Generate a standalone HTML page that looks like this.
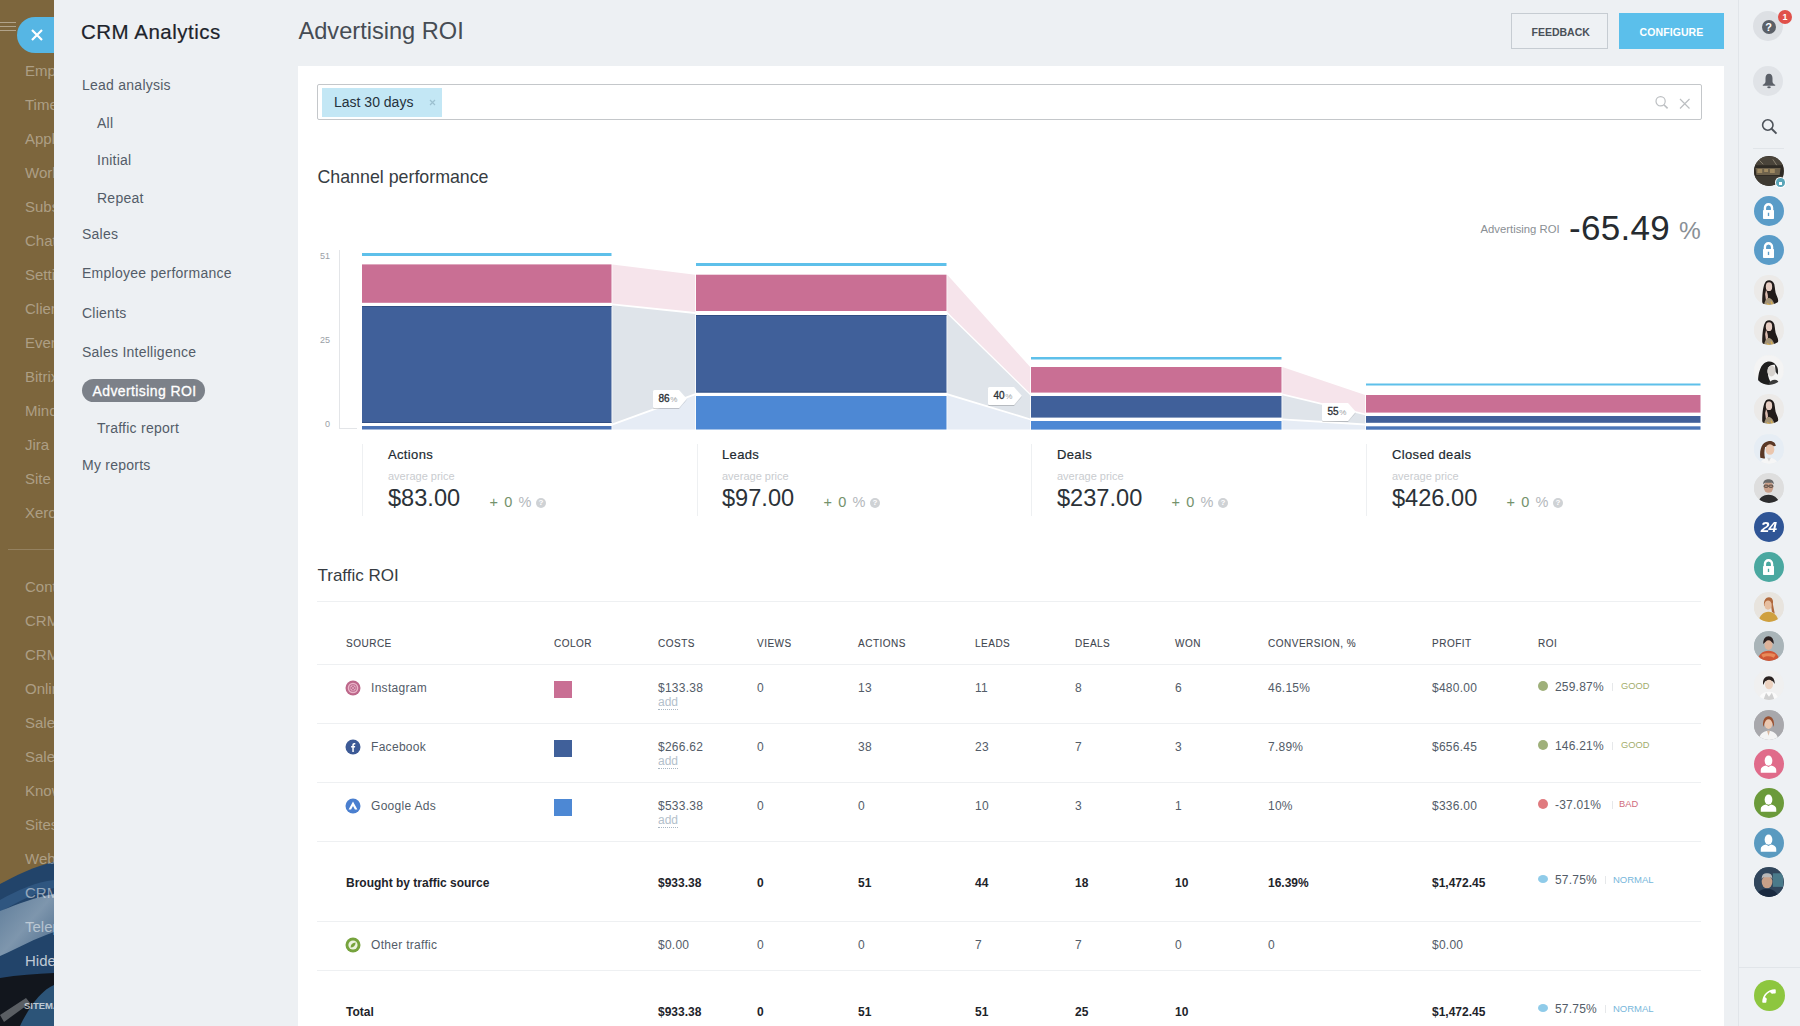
<!DOCTYPE html>
<html><head><meta charset="utf-8">
<style>
*{margin:0;padding:0;box-sizing:border-box}
html,body{width:1800px;height:1026px;overflow:hidden;background:#edf0f3;font-family:"Liberation Sans",sans-serif;position:relative}
.a{position:absolute;white-space:nowrap;line-height:normal}
svg.a{overflow:visible}
</style></head><body>
<div class="a" style="left:0;top:0;width:54px;height:1026px;background:#7d663d;overflow:hidden">
<svg class="a" style="left:0;top:840px" width="54" height="186" viewBox="0 0 54 186">
<defs><linearGradient id="lb" x1="0" y1="0" x2="1" y2="1"><stop offset="0" stop-color="#5f7d9a"/><stop offset="0.5" stop-color="#7e96ad"/><stop offset="1" stop-color="#4d6c8c"/></linearGradient></defs>
<path d="M0 44 C15 36 35 26 54 22 L54 186 L0 186 Z" fill="#22446a"/>
<path d="M0 60 C18 50 36 42 54 40 L54 48 C36 52 18 62 0 72 Z" fill="#2f5680"/>
<path d="M0 71 C18 64 36 57 54 54 L54 92 C36 98 18 108 0 116 Z" fill="url(#lb)"/>
<path d="M0 138 C18 135 36 134 54 133 L54 186 L0 186 Z" fill="#12161d"/>
<path d="M20 186 C30 165 42 150 54 145 L54 186 Z" fill="#2c5478"/>
<path d="M0 175 L26 158 L30 163 L4 182 Z" fill="#5a5e63"/>
</svg>
<div class="a" style="left:0;top:21.5px;width:16px;height:1.5px;background:rgba(255,255,255,.4)"></div>
<div class="a" style="left:0;top:25.5px;width:16px;height:1.5px;background:rgba(255,255,255,.4)"></div>
<div class="a" style="left:0;top:29.5px;width:16px;height:1.5px;background:rgba(255,255,255,.4)"></div>
<div class="a" style="left:25px;top:62.2px;font-size:15px;color:rgba(255,255,255,.38);">Employees</div>
<div class="a" style="left:25px;top:96.2px;font-size:15px;color:rgba(255,255,255,.38);">Timeman</div>
<div class="a" style="left:25px;top:130.2px;font-size:15px;color:rgba(255,255,255,.38);">Applications</div>
<div class="a" style="left:25px;top:164.2px;font-size:15px;color:rgba(255,255,255,.38);">Workflows</div>
<div class="a" style="left:25px;top:198.2px;font-size:15px;color:rgba(255,255,255,.38);">Subscription</div>
<div class="a" style="left:25px;top:232.2px;font-size:15px;color:rgba(255,255,255,.38);">Chat</div>
<div class="a" style="left:25px;top:266.2px;font-size:15px;color:rgba(255,255,255,.38);">Settings</div>
<div class="a" style="left:25px;top:300.2px;font-size:15px;color:rgba(255,255,255,.38);">Clients</div>
<div class="a" style="left:25px;top:334.2px;font-size:15px;color:rgba(255,255,255,.38);">Events</div>
<div class="a" style="left:25px;top:368.2px;font-size:15px;color:rgba(255,255,255,.38);">Bitrix24</div>
<div class="a" style="left:25px;top:402.2px;font-size:15px;color:rgba(255,255,255,.38);">Mind map</div>
<div class="a" style="left:25px;top:436.2px;font-size:15px;color:rgba(255,255,255,.38);">Jira I</div>
<div class="a" style="left:25px;top:470.2px;font-size:15px;color:rgba(255,255,255,.38);">Site</div>
<div class="a" style="left:25px;top:504.2px;font-size:15px;color:rgba(255,255,255,.38);">Xero</div>
<div class="a" style="left:8px;top:549px;width:46px;height:1px;background:rgba(255,255,255,.18)"></div>
<div class="a" style="left:25px;top:578.2px;font-size:15px;color:rgba(255,255,255,.38);">Contacts</div>
<div class="a" style="left:25px;top:612.2px;font-size:15px;color:rgba(255,255,255,.38);">CRM</div>
<div class="a" style="left:25px;top:646.2px;font-size:15px;color:rgba(255,255,255,.38);">CRM</div>
<div class="a" style="left:25px;top:680.2px;font-size:15px;color:rgba(255,255,255,.38);">Online</div>
<div class="a" style="left:25px;top:714.2px;font-size:15px;color:rgba(255,255,255,.38);">Sales</div>
<div class="a" style="left:25px;top:748.2px;font-size:15px;color:rgba(255,255,255,.38);">Sales</div>
<div class="a" style="left:25px;top:782.2px;font-size:15px;color:rgba(255,255,255,.38);">Knowledge</div>
<div class="a" style="left:25px;top:816.2px;font-size:15px;color:rgba(255,255,255,.38);">Sites</div>
<div class="a" style="left:25px;top:850.2px;font-size:15px;color:rgba(255,255,255,.38);">Web</div>
<div class="a" style="left:25px;top:884.2px;font-size:15px;color:rgba(255,255,255,.5);">CRM</div>
<div class="a" style="left:25px;top:918.2px;font-size:15px;color:rgba(255,255,255,.5);">Telephony</div>
<div class="a" style="left:25px;top:952.2px;font-size:15px;color:rgba(255,255,255,.72);">Hide</div>
<div class="a" style="left:24px;top:1000.3px;font-size:9.5px;color:rgba(255,255,255,.7);font-weight:bold">SITEMAP</div>
</div>
<div class="a" style="left:17px;top:17px;width:37px;height:36px;background:#56b6e4;border-radius:18px 0 0 18px"></div>
<svg class="a" style="left:30px;top:28px" width="14" height="14" viewBox="0 0 14 14"><path d="M2 2L12 12M12 2L2 12" stroke="#fff" stroke-width="2.2"/></svg>
<div class="a" style="left:81px;top:20.4px;font-size:20.5px;color:#1d232b;letter-spacing:0.5px;-webkit-text-stroke:0.2px #1d232b">CRM Analytics</div>
<div class="a" style="left:82px;top:77.1px;font-size:14px;color:#535c68;letter-spacing:0.25px">Lead analysis</div>
<div class="a" style="left:97px;top:115.1px;font-size:14px;color:#535c68;letter-spacing:0.25px">All</div>
<div class="a" style="left:97px;top:152.1px;font-size:14px;color:#535c68;letter-spacing:0.25px">Initial</div>
<div class="a" style="left:97px;top:190.1px;font-size:14px;color:#535c68;letter-spacing:0.25px">Repeat</div>
<div class="a" style="left:82px;top:226.1px;font-size:14px;color:#535c68;letter-spacing:0.25px">Sales</div>
<div class="a" style="left:82px;top:265.1px;font-size:14px;color:#535c68;letter-spacing:0.25px">Employee performance</div>
<div class="a" style="left:82px;top:304.6px;font-size:14px;color:#535c68;letter-spacing:0.25px">Clients</div>
<div class="a" style="left:82px;top:343.6px;font-size:14px;color:#535c68;letter-spacing:0.25px">Sales Intelligence</div>
<div class="a" style="left:97px;top:420.1px;font-size:14px;color:#535c68;letter-spacing:0.25px">Traffic report</div>
<div class="a" style="left:82px;top:457.1px;font-size:14px;color:#535c68;letter-spacing:0.25px">My reports</div>
<div class="a" style="left:82px;top:379px;width:123px;height:23px;border-radius:12px;background:#7c8189"></div>
<div class="a" style="left:92.5px;top:383.1px;font-size:14px;color:#fff;letter-spacing:0.4px;-webkit-text-stroke:0.3px #fff">Advertising ROI</div>
<div class="a" style="left:298.5px;top:17.9px;font-size:23.6px;color:#464c54;">Advertising ROI</div>
<div class="a" style="left:1511px;top:13px;width:97px;height:36px;border:1px solid #c6ccd2;background:#eef1f4"></div>
<div class="a" style="left:1531.5px;top:25.6px;font-size:10.5px;color:#4a5058;font-weight:bold;letter-spacing:0px">FEEDBACK</div>
<div class="a" style="left:1619px;top:13px;width:105px;height:36px;background:#5bbfeb"></div>
<div class="a" style="left:1639.5px;top:25.6px;font-size:10.5px;color:#fff;font-weight:bold;letter-spacing:0.1px">CONFIGURE</div>
<div class="a" style="left:298px;top:66px;width:1426px;height:960px;background:#fff"></div>
<div class="a" style="left:317px;top:83.5px;width:1385px;height:36px;border:1px solid #c4c7ca;border-top:1.5px solid #c4c7ca;border-radius:2px;background:#fff"></div>
<div class="a" style="left:322px;top:88px;width:120px;height:29px;background:#c3e7f5"></div>
<div class="a" style="left:334px;top:94.1px;font-size:14px;color:#25323c;">Last 30 days</div>
<svg class="a" style="left:429px;top:99px" width="7" height="7" viewBox="0 0 7 7"><path d="M1 1L6 6M6 1L1 6" stroke="#9cc0d0" stroke-width="1.2"/></svg>
<svg class="a" style="left:1654px;top:95px" width="16" height="16" viewBox="0 0 16 16"><circle cx="6.6" cy="6.3" r="4.6" fill="none" stroke="#bcbfc2" stroke-width="1.2"/><path d="M9.9 9.7L13.6 13.4" stroke="#bcbfc2" stroke-width="1.6"/></svg>
<svg class="a" style="left:1678.5px;top:98px" width="12" height="12" viewBox="0 0 12 12"><path d="M1 1L10.5 10.5M10.5 1L1 10.5" stroke="#bcbfc2" stroke-width="1.2"/></svg>
<div class="a" style="left:317.5px;top:166.6px;font-size:17.8px;color:#363c42;">Channel performance</div>
<div class="a" style="left:1480.5px;top:222.6px;font-size:11.3px;color:#8a8f94;">Advertising ROI</div>
<div class="a" style="left:1569px;top:207.8px;font-size:35px;color:#262b30;letter-spacing:0.3px">-65.49</div>
<div class="a" style="left:1679px;top:217.4px;font-size:24.5px;color:#8a9096;">%</div>
<svg class="a" style="left:0;top:0" width="1800" height="1026">
  <g font-family="Liberation Sans" font-size="9" fill="#9aa0a6">
    <text x="320" y="259">51</text><text x="320" y="343">25</text><text x="325" y="427">0</text>
  </g>
  <rect x="339" y="250" width="1" height="179" fill="#e3e5e8"/>
  <rect x="339" y="428" width="18" height="1" fill="#e3e5e8"/>
<polygon points="612.3,264.4 695.2,274.7 695.2,312.1 612.3,303.5" fill="#f6e4eb"/>
<polygon points="612.3,305.29999999999995 695.2,313.9 695.2,393.35 612.3,423.6" fill="#dfe4ea"/>
<polygon points="612.3,425.4 695.2,395.15 695.2,429.5 612.3,429.5" fill="#e6ecf5"/>
<polygon points="947.3,274.7 1030.2,367 1030.2,393.40000000000003 947.3,312.1" fill="#f6e4eb"/>
<polygon points="947.3,313.9 1030.2,395.2 1030.2,418.40000000000003 947.3,393.35" fill="#dfe4ea"/>
<polygon points="947.3,395.15 1030.2,420.2 1030.2,429.5 947.3,429.5" fill="#e6ecf5"/>
<polygon points="1282.3,367 1365.2,395 1365.2,413.40000000000003 1282.3,393.40000000000003" fill="#f6e4eb"/>
<polygon points="1282.3,395.2 1365.2,415.2 1365.2,423.6 1282.3,418.40000000000003" fill="#dfe4ea"/>
<polygon points="1282.3,420.2 1365.2,425.4 1365.2,429.5 1282.3,429.5" fill="#e6ecf5"/>
  <rect x="362" y="253" width="249.5" height="3" fill="#5ec0ea"/>
  <rect x="362" y="264.4" width="249.5" height="38.4" fill="#c96f94"/>
  <rect x="362" y="306" width="249.5" height="117" fill="#40609a"/>
  <rect x="362" y="306" width="249.5" height="0.8" fill="#2d4a7c"/><rect x="362" y="422.2" width="249.5" height="0.8" fill="#2d4a7c"/>
  <rect x="362" y="426" width="249.5" height="3.5" fill="#4a72b4"/>
  <rect x="696" y="263" width="250.5" height="3" fill="#5ec0ea"/>
  <rect x="696" y="274.7" width="250.5" height="36.3" fill="#c96f94"/>
  <rect x="696" y="315" width="250.5" height="77.5" fill="#40609a"/>
  <rect x="696" y="315" width="250.5" height="0.8" fill="#2d4a7c"/><rect x="696" y="391.7" width="250.5" height="0.8" fill="#2d4a7c"/>
  <rect x="696" y="396" width="250.5" height="33.5" fill="#4d88d4"/>
  <rect x="1031" y="357" width="250.5" height="2.5" fill="#5ec0ea"/>
  <rect x="1031" y="367" width="250.5" height="25.6" fill="#c96f94"/>
  <rect x="1031" y="396" width="250.5" height="21.6" fill="#40609a"/>
  <rect x="1031" y="421" width="250.5" height="8.6" fill="#4d88d4"/>
  <rect x="1366" y="383.5" width="334.5" height="2" fill="#5ec0ea"/>
  <rect x="1366" y="395" width="334.5" height="17.6" fill="#c96f94"/>
  <rect x="1366" y="416" width="334.5" height="6.8" fill="#40609a"/>
  <rect x="1366" y="426.3" width="334.5" height="3.4" fill="#4a76b8"/>
  <defs><filter id="sh" x="-20%" y="-20%" width="140%" height="160%"><feDropShadow dx="0" dy="1" stdDeviation="0.6" flood-color="#000" flood-opacity="0.18"/></filter></defs>
  <g font-family="Liberation Sans" font-size="10" fill="#2e3338" stroke="#2e3338" stroke-width="0.35">
    <path d="M654.5,390 H679 L686.8,398.8 L679,408 H654.5 Q653,408 653,406.5 V391.5 Q653,390 654.5,390 Z" fill="#fff" stroke="none" filter="url(#sh)"/>
    <text x="658.5" y="401.8">86<tspan font-size="8" fill="#9a9ea3" stroke="none" style="-webkit-text-stroke:0" dx="0.5">%</tspan></text>
    <path d="M989.5,387 H1014 L1021.8,395.8 L1014,405 H989.5 Q988,405 988,403.5 V388.5 Q988,387 989.5,387 Z" fill="#fff" stroke="none" filter="url(#sh)"/>
    <text x="993.5" y="398.8">40<tspan font-size="8" fill="#9a9ea3" stroke="none" style="-webkit-text-stroke:0" dx="0.5">%</tspan></text>
    <path d="M1323.5,403 H1348 L1355.8,411.8 L1348,421 H1323.5 Q1322,421 1322,419.5 V404.5 Q1322,403 1323.5,403 Z" fill="#fff" stroke="none" filter="url(#sh)"/>
    <text x="1327.5" y="414.8">55<tspan font-size="8" fill="#9a9ea3" stroke="none" style="-webkit-text-stroke:0" dx="0.5">%</tspan></text>
  </g>
</svg>
<div class="a" style="left:362px;top:444px;width:1px;height:72px;background:#eef0f2"></div>
<div class="a" style="left:388px;top:447.0px;font-size:13px;color:#222a30;letter-spacing:0.35px;-webkit-text-stroke:0.2px #222a30">Actions</div>
<div class="a" style="left:388px;top:469.9px;font-size:11px;color:#c9cccf;">average price</div>
<div class="a" style="left:388px;top:485.3px;font-size:23.6px;color:#2c3238;">$83.00</div>
<div class="a" style="left:489.5px;top:493.6px;font-size:14.5px;color:#74926c;letter-spacing:1.1px">+ 0 <span style="color:#b4b8bc">%</span></div>
<div class="a" style="left:536px;top:498px;width:10px;height:10px;border-radius:50%;background:#cfd2d5;color:#fff;font-size:8px;font-weight:bold;text-align:center;line-height:10px">?</div>
<div class="a" style="left:697px;top:444px;width:1px;height:72px;background:#eef0f2"></div>
<div class="a" style="left:722px;top:447.0px;font-size:13px;color:#222a30;letter-spacing:0.35px;-webkit-text-stroke:0.2px #222a30">Leads</div>
<div class="a" style="left:722px;top:469.9px;font-size:11px;color:#c9cccf;">average price</div>
<div class="a" style="left:722px;top:485.3px;font-size:23.6px;color:#2c3238;">$97.00</div>
<div class="a" style="left:823.5px;top:493.6px;font-size:14.5px;color:#74926c;letter-spacing:1.1px">+ 0 <span style="color:#b4b8bc">%</span></div>
<div class="a" style="left:870px;top:498px;width:10px;height:10px;border-radius:50%;background:#cfd2d5;color:#fff;font-size:8px;font-weight:bold;text-align:center;line-height:10px">?</div>
<div class="a" style="left:1031px;top:444px;width:1px;height:72px;background:#eef0f2"></div>
<div class="a" style="left:1057px;top:447.0px;font-size:13px;color:#222a30;letter-spacing:0.35px;-webkit-text-stroke:0.2px #222a30">Deals</div>
<div class="a" style="left:1057px;top:469.9px;font-size:11px;color:#c9cccf;">average price</div>
<div class="a" style="left:1057px;top:485.3px;font-size:23.6px;color:#2c3238;">$237.00</div>
<div class="a" style="left:1171.5px;top:493.6px;font-size:14.5px;color:#74926c;letter-spacing:1.1px">+ 0 <span style="color:#b4b8bc">%</span></div>
<div class="a" style="left:1218px;top:498px;width:10px;height:10px;border-radius:50%;background:#cfd2d5;color:#fff;font-size:8px;font-weight:bold;text-align:center;line-height:10px">?</div>
<div class="a" style="left:1366px;top:444px;width:1px;height:72px;background:#eef0f2"></div>
<div class="a" style="left:1392px;top:447.0px;font-size:13px;color:#222a30;letter-spacing:0.35px;-webkit-text-stroke:0.2px #222a30">Closed deals</div>
<div class="a" style="left:1392px;top:469.9px;font-size:11px;color:#c9cccf;">average price</div>
<div class="a" style="left:1392px;top:485.3px;font-size:23.6px;color:#2c3238;">$426.00</div>
<div class="a" style="left:1506.5px;top:493.6px;font-size:14.5px;color:#74926c;letter-spacing:1.1px">+ 0 <span style="color:#b4b8bc">%</span></div>
<div class="a" style="left:1553px;top:498px;width:10px;height:10px;border-radius:50%;background:#cfd2d5;color:#fff;font-size:8px;font-weight:bold;text-align:center;line-height:10px">?</div>
<div class="a" style="left:317.5px;top:565.5px;font-size:17px;color:#363c42;">Traffic ROI</div>
<div class="a" style="left:317px;top:601px;width:1384px;height:1px;background:#eef0f2"></div>
<div class="a" style="left:317px;top:664px;width:1384px;height:1px;background:#eef0f2"></div>
<div class="a" style="left:317px;top:723px;width:1384px;height:1px;background:#eef0f2"></div>
<div class="a" style="left:317px;top:782px;width:1384px;height:1px;background:#eef0f2"></div>
<div class="a" style="left:317px;top:841px;width:1384px;height:1px;background:#eef0f2"></div>
<div class="a" style="left:317px;top:921px;width:1384px;height:1px;background:#eef0f2"></div>
<div class="a" style="left:317px;top:970px;width:1384px;height:1px;background:#eef0f2"></div>
<div class="a" style="left:346px;top:637.8px;font-size:10px;color:#3f4750;letter-spacing:0.5px;-webkit-text-stroke:0.1px #3f4750">SOURCE</div>
<div class="a" style="left:554px;top:637.8px;font-size:10px;color:#3f4750;letter-spacing:0.5px;-webkit-text-stroke:0.1px #3f4750">COLOR</div>
<div class="a" style="left:658px;top:637.8px;font-size:10px;color:#3f4750;letter-spacing:0.5px;-webkit-text-stroke:0.1px #3f4750">COSTS</div>
<div class="a" style="left:757px;top:637.8px;font-size:10px;color:#3f4750;letter-spacing:0.5px;-webkit-text-stroke:0.1px #3f4750">VIEWS</div>
<div class="a" style="left:858px;top:637.8px;font-size:10px;color:#3f4750;letter-spacing:0.5px;-webkit-text-stroke:0.1px #3f4750">ACTIONS</div>
<div class="a" style="left:975px;top:637.8px;font-size:10px;color:#3f4750;letter-spacing:0.5px;-webkit-text-stroke:0.1px #3f4750">LEADS</div>
<div class="a" style="left:1075px;top:637.8px;font-size:10px;color:#3f4750;letter-spacing:0.5px;-webkit-text-stroke:0.1px #3f4750">DEALS</div>
<div class="a" style="left:1175px;top:637.8px;font-size:10px;color:#3f4750;letter-spacing:0.5px;-webkit-text-stroke:0.1px #3f4750">WON</div>
<div class="a" style="left:1268px;top:637.8px;font-size:10px;color:#3f4750;letter-spacing:0.5px;-webkit-text-stroke:0.1px #3f4750">CONVERSION, %</div>
<div class="a" style="left:1432px;top:637.8px;font-size:10px;color:#3f4750;letter-spacing:0.5px;-webkit-text-stroke:0.1px #3f4750">PROFIT</div>
<div class="a" style="left:1538px;top:637.8px;font-size:10px;color:#3f4750;letter-spacing:0.5px;-webkit-text-stroke:0.1px #3f4750">ROI</div>
<svg class="a" style="left:345px;top:680px" width="16" height="16" viewBox="0 0 16 16"><circle cx="8" cy="8" r="7.5" fill="#bd678a"/><circle cx="8" cy="8" r="5.3" fill="#eab3c8"/><rect x="4.9" y="4.9" width="6.2" height="6.2" rx="1.8" fill="none" stroke="#b25c82" stroke-width="1"/><circle cx="8" cy="8" r="1.5" fill="none" stroke="#b25c82" stroke-width="0.9"/></svg>
<div class="a" style="left:371px;top:680.9px;font-size:12px;color:#535c68;letter-spacing:0.3px">Instagram</div>
<div class="a" style="left:554px;top:681px;width:18px;height:17px;background:#c96f94"></div>
<div class="a" style="left:658px;top:680.9px;font-size:12px;color:#535c68;letter-spacing:0.25px">$133.38</div>
<div class="a" style="left:658px;top:695.9px;font-size:12px;color:#b3c0cb;border-bottom:1px dotted #aab7c3;line-height:13px">add</div>
<div class="a" style="left:757px;top:680.9px;font-size:12px;color:#535c68;letter-spacing:0.25px">0</div>
<div class="a" style="left:858px;top:680.9px;font-size:12px;color:#535c68;letter-spacing:0.25px">13</div>
<div class="a" style="left:975px;top:680.9px;font-size:12px;color:#535c68;letter-spacing:0.25px">11</div>
<div class="a" style="left:1075px;top:680.9px;font-size:12px;color:#535c68;letter-spacing:0.25px">8</div>
<div class="a" style="left:1175px;top:680.9px;font-size:12px;color:#535c68;letter-spacing:0.25px">6</div>
<div class="a" style="left:1268px;top:680.9px;font-size:12px;color:#535c68;letter-spacing:0.25px">46.15%</div>
<div class="a" style="left:1432px;top:680.9px;font-size:12px;color:#535c68;letter-spacing:0.25px">$480.00</div>
<div class="a" style="left:1538px;top:681px;width:10px;height:10px;border-radius:50%;background:#9fb07a"></div>
<div class="a" style="left:1555px;top:679.9px;font-size:12px;color:#535c68;letter-spacing:0.2px">259.87%</div>
<div class="a" style="left:1612px;top:683px;width:1px;height:8px;background:#e6e8ea"></div>
<div class="a" style="left:1621px;top:680.9px;font-size:9.3px;color:#a3ad6d;">GOOD</div>
<svg class="a" style="left:345px;top:739px" width="16" height="16" viewBox="0 0 16 16"><circle cx="8" cy="8" r="7.5" fill="#3d5a96"/><path d="M8.8 13V8.6H10L10.2 7.1H8.8V6.2C8.8 5.7 9 5.4 9.6 5.4H10.3V4C10.1 4 9.7 3.9 9.2 3.9C8.1 3.9 7.3 4.6 7.3 5.9V7.1H6.1V8.6H7.3V13Z" fill="#fff"/></svg>
<div class="a" style="left:371px;top:739.9px;font-size:12px;color:#535c68;letter-spacing:0.3px">Facebook</div>
<div class="a" style="left:554px;top:740px;width:18px;height:17px;background:#40609a"></div>
<div class="a" style="left:658px;top:739.9px;font-size:12px;color:#535c68;letter-spacing:0.25px">$266.62</div>
<div class="a" style="left:658px;top:754.9px;font-size:12px;color:#b3c0cb;border-bottom:1px dotted #aab7c3;line-height:13px">add</div>
<div class="a" style="left:757px;top:739.9px;font-size:12px;color:#535c68;letter-spacing:0.25px">0</div>
<div class="a" style="left:858px;top:739.9px;font-size:12px;color:#535c68;letter-spacing:0.25px">38</div>
<div class="a" style="left:975px;top:739.9px;font-size:12px;color:#535c68;letter-spacing:0.25px">23</div>
<div class="a" style="left:1075px;top:739.9px;font-size:12px;color:#535c68;letter-spacing:0.25px">7</div>
<div class="a" style="left:1175px;top:739.9px;font-size:12px;color:#535c68;letter-spacing:0.25px">3</div>
<div class="a" style="left:1268px;top:739.9px;font-size:12px;color:#535c68;letter-spacing:0.25px">7.89%</div>
<div class="a" style="left:1432px;top:739.9px;font-size:12px;color:#535c68;letter-spacing:0.25px">$656.45</div>
<div class="a" style="left:1538px;top:740px;width:10px;height:10px;border-radius:50%;background:#9fb07a"></div>
<div class="a" style="left:1555px;top:738.9px;font-size:12px;color:#535c68;letter-spacing:0.2px">146.21%</div>
<div class="a" style="left:1612px;top:742px;width:1px;height:8px;background:#e6e8ea"></div>
<div class="a" style="left:1621px;top:739.9px;font-size:9.3px;color:#a3ad6d;">GOOD</div>
<svg class="a" style="left:345px;top:798px" width="16" height="16" viewBox="0 0 16 16"><circle cx="8" cy="8" r="7.5" fill="#4a7fcf"/><path d="M8 3.6L12.4 11.4H9.9L8 8L6.1 11.4H3.6Z" fill="#fff"/></svg>
<div class="a" style="left:371px;top:798.9px;font-size:12px;color:#535c68;letter-spacing:0.3px">Google Ads</div>
<div class="a" style="left:554px;top:799px;width:18px;height:17px;background:#4d88d4"></div>
<div class="a" style="left:658px;top:798.9px;font-size:12px;color:#535c68;letter-spacing:0.25px">$533.38</div>
<div class="a" style="left:658px;top:813.9px;font-size:12px;color:#b3c0cb;border-bottom:1px dotted #aab7c3;line-height:13px">add</div>
<div class="a" style="left:757px;top:798.9px;font-size:12px;color:#535c68;letter-spacing:0.25px">0</div>
<div class="a" style="left:858px;top:798.9px;font-size:12px;color:#535c68;letter-spacing:0.25px">0</div>
<div class="a" style="left:975px;top:798.9px;font-size:12px;color:#535c68;letter-spacing:0.25px">10</div>
<div class="a" style="left:1075px;top:798.9px;font-size:12px;color:#535c68;letter-spacing:0.25px">3</div>
<div class="a" style="left:1175px;top:798.9px;font-size:12px;color:#535c68;letter-spacing:0.25px">1</div>
<div class="a" style="left:1268px;top:798.9px;font-size:12px;color:#535c68;letter-spacing:0.25px">10%</div>
<div class="a" style="left:1432px;top:798.9px;font-size:12px;color:#535c68;letter-spacing:0.25px">$336.00</div>
<div class="a" style="left:1538px;top:799px;width:10px;height:10px;border-radius:50%;background:#e07a7f"></div>
<div class="a" style="left:1555px;top:797.9px;font-size:12px;color:#535c68;letter-spacing:0.2px">-37.01%</div>
<div class="a" style="left:1612px;top:801px;width:1px;height:8px;background:#e6e8ea"></div>
<div class="a" style="left:1619px;top:798.9px;font-size:9.3px;color:#cf6b7b;">BAD</div>
<div class="a" style="left:346px;top:875.9px;font-size:12px;color:#1e242a;font-weight:bold">Brought by traffic source</div>
<div class="a" style="left:658px;top:875.9px;font-size:12px;color:#1e242a;font-weight:bold">$933.38</div>
<div class="a" style="left:757px;top:875.9px;font-size:12px;color:#1e242a;font-weight:bold">0</div>
<div class="a" style="left:858px;top:875.9px;font-size:12px;color:#1e242a;font-weight:bold">51</div>
<div class="a" style="left:975px;top:875.9px;font-size:12px;color:#1e242a;font-weight:bold">44</div>
<div class="a" style="left:1075px;top:875.9px;font-size:12px;color:#1e242a;font-weight:bold">18</div>
<div class="a" style="left:1175px;top:875.9px;font-size:12px;color:#1e242a;font-weight:bold">10</div>
<div class="a" style="left:1268px;top:875.9px;font-size:12px;color:#1e242a;font-weight:bold">16.39%</div>
<div class="a" style="left:1432px;top:875.9px;font-size:12px;color:#1e242a;font-weight:bold">$1,472.45</div>
<div class="a" style="left:1538px;top:875px;width:10px;height:8px;border-radius:50%;background:#8fcbe9"></div>
<div class="a" style="left:1555px;top:872.9px;font-size:12px;color:#535c68;letter-spacing:0.2px">57.75%</div>
<div class="a" style="left:1605px;top:876px;width:1px;height:8px;background:#e6e8ea"></div>
<div class="a" style="left:1613px;top:874.3px;font-size:9.5px;color:#77b7db;">NORMAL</div>
<svg class="a" style="left:345px;top:937px" width="16" height="16" viewBox="0 0 16 16"><circle cx="8" cy="8" r="7.5" fill="#76a33d"/><circle cx="8" cy="8" r="4.6" fill="#eaf3df"/><path d="M5.6 10.6C5.6 7.4 7.4 5.6 10.6 5.4C10.4 8.6 8.6 10.4 5.6 10.6Z" fill="#76a33d"/></svg>
<div class="a" style="left:371px;top:937.9px;font-size:12px;color:#535c68;letter-spacing:0.3px">Other traffic</div>
<div class="a" style="left:658px;top:937.9px;font-size:12px;color:#535c68;letter-spacing:0.25px">$0.00</div>
<div class="a" style="left:757px;top:937.9px;font-size:12px;color:#535c68;letter-spacing:0.25px">0</div>
<div class="a" style="left:858px;top:937.9px;font-size:12px;color:#535c68;letter-spacing:0.25px">0</div>
<div class="a" style="left:975px;top:937.9px;font-size:12px;color:#535c68;letter-spacing:0.25px">7</div>
<div class="a" style="left:1075px;top:937.9px;font-size:12px;color:#535c68;letter-spacing:0.25px">7</div>
<div class="a" style="left:1175px;top:937.9px;font-size:12px;color:#535c68;letter-spacing:0.25px">0</div>
<div class="a" style="left:1268px;top:937.9px;font-size:12px;color:#535c68;letter-spacing:0.25px">0</div>
<div class="a" style="left:1432px;top:937.9px;font-size:12px;color:#535c68;letter-spacing:0.25px">$0.00</div>
<div class="a" style="left:346px;top:1004.9px;font-size:12px;color:#1e242a;font-weight:bold">Total</div>
<div class="a" style="left:658px;top:1004.9px;font-size:12px;color:#1e242a;font-weight:bold">$933.38</div>
<div class="a" style="left:757px;top:1004.9px;font-size:12px;color:#1e242a;font-weight:bold">0</div>
<div class="a" style="left:858px;top:1004.9px;font-size:12px;color:#1e242a;font-weight:bold">51</div>
<div class="a" style="left:975px;top:1004.9px;font-size:12px;color:#1e242a;font-weight:bold">51</div>
<div class="a" style="left:1075px;top:1004.9px;font-size:12px;color:#1e242a;font-weight:bold">25</div>
<div class="a" style="left:1175px;top:1004.9px;font-size:12px;color:#1e242a;font-weight:bold">10</div>
<div class="a" style="left:1432px;top:1004.9px;font-size:12px;color:#1e242a;font-weight:bold">$1,472.45</div>
<div class="a" style="left:1538px;top:1004px;width:10px;height:8px;border-radius:50%;background:#8fcbe9"></div>
<div class="a" style="left:1555px;top:1001.9px;font-size:12px;color:#535c68;letter-spacing:0.2px">57.75%</div>
<div class="a" style="left:1605px;top:1005px;width:1px;height:8px;background:#e6e8ea"></div>
<div class="a" style="left:1613px;top:1003.3px;font-size:9.5px;color:#77b7db;">NORMAL</div>
<div class="a" style="left:1738px;top:0;width:62px;height:1026px;background:#eef1f4;border-left:1px solid #e1e5e9"></div>
<div class="a" style="left:1739px;top:967px;width:61px;height:1px;background:#e1e5e9"></div>
<div class="a" style="left:1753px;top:11px;width:30px;height:30px;border-radius:50%;background:#dde0e4"></div>
<div class="a" style="left:1761.5px;top:19.5px;width:14px;height:14px;border-radius:50%;background:#5b6068;color:#fff;font-size:11px;font-weight:bold;text-align:center;line-height:14px">?</div>
<div class="a" style="left:1778px;top:10px;width:14px;height:14px;border-radius:50%;background:#e0504a;color:#fff;font-size:9px;font-weight:bold;text-align:center;line-height:14px">1</div>
<div class="a" style="left:1753px;top:66px;width:30px;height:30px;border-radius:50%;background:#e0e3e7"></div>
<svg class="a" style="left:1761.5px;top:72.5px" width="14" height="16" viewBox="0 0 14 16"><path d="M7 0.8C4.7 0.8 3.5 2.8 3.5 5.2V8.4C3.5 9.8 2.6 10.8 0.8 11.8V12.8H13.2V11.8C11.4 10.8 10.5 9.8 10.5 8.4V5.2C10.5 2.8 9.3 0.8 7 0.8Z" fill="#5b6068"/><ellipse cx="7" cy="14.3" rx="1.8" ry="1" fill="#5b6068"/></svg>
<svg class="a" style="left:1761px;top:118px" width="18" height="18" viewBox="0 0 18 18"><circle cx="6.8" cy="7" r="5.2" fill="none" stroke="#4d535a" stroke-width="1.6"/><path d="M10.6 10.8L15.5 15.6" stroke="#4d535a" stroke-width="2"/></svg>
<div class="a" style="left:1753px;top:148px;width:31px;height:1px;background:#e1e5e9"></div>
<div class="a" style="left:1753.5px;top:156px;width:30px;height:30px;border-radius:50%;background:#3a342c;overflow:hidden"><div style="position:absolute;left:-0.5px;top:-0.5px;width:31px;height:31px;transform:scale(0.968);transform-origin:15.5px 15.5px"><svg width="31" height="31" viewBox="0 0 31 31" style="position:absolute;left:0;top:0"><rect width="31" height="31" fill="#2e2a24"/><rect x="0" y="0" width="31" height="9" fill="#4a443a"/><path d="M2 12H28L27 19H3Z" fill="#6e624c"/><path d="M4 13H9V17H4ZM11 13H15V16H11ZM17 13H22V17H17Z" fill="#a08a62"/><rect x="0" y="20" width="31" height="11" fill="#3e3a32"/><path d="M6 4L10 8M20 3L24 9" stroke="#8a8270" stroke-width="1"/></svg></div></div>
<div class="a" style="left:1775px;top:177px;width:11px;height:11px;border-radius:50%;background:#fff"></div>
<div class="a" style="left:1776.2px;top:178.2px;width:8.6px;height:8.6px;border-radius:50%;background:#5aa5b8"></div>
<div class="a" style="left:1778.7px;top:181.5px;width:3.6px;height:3px;background:#fff"></div>
<div class="a" style="left:1753.5px;top:196px;width:30px;height:30px;border-radius:50%;background:#5a9cc8;overflow:hidden"><div style="position:absolute;left:-0.5px;top:-0.5px;width:31px;height:31px;transform:scale(0.968);transform-origin:15.5px 15.5px"><svg width="31" height="31" viewBox="0 0 31 31" style="position:absolute;left:0;top:0"><path d="M11.8 14.5V11.8C11.8 9.6 13.4 8 15.5 8C17.6 8 19.2 9.6 19.2 11.8V14.5" fill="none" stroke="#fff" stroke-width="2.4"/><rect x="9.8" y="14" width="11.4" height="9.2" rx="0.8" fill="#fff"/><rect x="14.8" y="16.8" width="1.4" height="3.4" fill="#5a9cc8"/></svg></div></div>
<div class="a" style="left:1753.5px;top:235px;width:30px;height:30px;border-radius:50%;background:#5a9cc8;overflow:hidden"><div style="position:absolute;left:-0.5px;top:-0.5px;width:31px;height:31px;transform:scale(0.968);transform-origin:15.5px 15.5px"><svg width="31" height="31" viewBox="0 0 31 31" style="position:absolute;left:0;top:0"><path d="M11.8 14.5V11.8C11.8 9.6 13.4 8 15.5 8C17.6 8 19.2 9.6 19.2 11.8V14.5" fill="none" stroke="#fff" stroke-width="2.4"/><rect x="9.8" y="14" width="11.4" height="9.2" rx="0.8" fill="#fff"/><rect x="14.8" y="16.8" width="1.4" height="3.4" fill="#5a9cc8"/></svg></div></div>
<div class="a" style="left:1753.5px;top:275px;width:30px;height:30px;border-radius:50%;background:#eceae8;overflow:hidden"><div style="position:absolute;left:-0.5px;top:-0.5px;width:31px;height:31px;transform:scale(0.968);transform-origin:15.5px 15.5px"><svg width="31" height="31" viewBox="0 0 31 31" style="position:absolute;left:0;top:0"><rect width="31" height="31" fill="#eceae8"/><path d="M9 27C9 19 10 9 13 6C16 4 20 5 21.5 9C22.5 13 22 17 24 21C26 25 26 28 24 31H10Z" fill="#211b1a"/><ellipse cx="16" cy="11.5" rx="3.3" ry="4.6" fill="#e6cdc2"/><path d="M13 15C14 17 15 19 15 23L13 27L12 19Z" fill="#dcbcb0"/><path d="M11 31C11 27 13 24 16 23C19 24 21 27 22 31Z" fill="#a49478"/><path d="M14 29L17 31M18 27L20 31" stroke="#d8b050" stroke-width="1.2"/></svg></div></div>
<div class="a" style="left:1753.5px;top:315px;width:30px;height:30px;border-radius:50%;background:#eceae8;overflow:hidden"><div style="position:absolute;left:-0.5px;top:-0.5px;width:31px;height:31px;transform:scale(0.968);transform-origin:15.5px 15.5px"><svg width="31" height="31" viewBox="0 0 31 31" style="position:absolute;left:0;top:0"><rect width="31" height="31" fill="#eceae8"/><path d="M9 27C9 19 10 9 13 6C16 4 20 5 21.5 9C22.5 13 22 17 24 21C26 25 26 28 24 31H10Z" fill="#211b1a"/><ellipse cx="16" cy="11.5" rx="3.3" ry="4.6" fill="#e6cdc2"/><path d="M13 15C14 17 15 19 15 23L13 27L12 19Z" fill="#dcbcb0"/><path d="M11 31C11 27 13 24 16 23C19 24 21 27 22 31Z" fill="#a49478"/><path d="M14 29L17 31M18 27L20 31" stroke="#d8b050" stroke-width="1.2"/></svg></div></div>
<div class="a" style="left:1753.5px;top:355px;width:30px;height:30px;border-radius:50%;background:#f2f2f2;overflow:hidden"><div style="position:absolute;left:-0.5px;top:-0.5px;width:31px;height:31px;transform:scale(0.968);transform-origin:15.5px 15.5px"><svg width="31" height="31" viewBox="0 0 31 31" style="position:absolute;left:0;top:0"><rect width="31" height="31" fill="#f4f4f4"/><path d="M5 31C4 22 6 12 11 8C15 5 21 6 23 10C20 9 16 10 15 14C14 20 16 26 20 31Z" fill="#1e1e1e"/><ellipse cx="18.5" cy="16" rx="4.3" ry="5.6" fill="#d6d2ce"/><path d="M15 31C16 27 19 25 22 25C25 25 27 28 28 31Z" fill="#3a3a3a"/><path d="M22 9C25 11 26 15 25 20L23 17Z" fill="#2a2a2a"/></svg></div></div>
<div class="a" style="left:1753.5px;top:394px;width:30px;height:30px;border-radius:50%;background:#eceae8;overflow:hidden"><div style="position:absolute;left:-0.5px;top:-0.5px;width:31px;height:31px;transform:scale(0.968);transform-origin:15.5px 15.5px"><svg width="31" height="31" viewBox="0 0 31 31" style="position:absolute;left:0;top:0"><rect width="31" height="31" fill="#eceae8"/><path d="M9 27C9 19 10 9 13 6C16 4 20 5 21.5 9C22.5 13 22 17 24 21C26 25 26 28 24 31H10Z" fill="#211b1a"/><ellipse cx="16" cy="11.5" rx="3.3" ry="4.6" fill="#e6cdc2"/><path d="M13 15C14 17 15 19 15 23L13 27L12 19Z" fill="#dcbcb0"/><path d="M11 31C11 27 13 24 16 23C19 24 21 27 22 31Z" fill="#a49478"/><path d="M14 29L17 31M18 27L20 31" stroke="#d8b050" stroke-width="1.2"/></svg></div></div>
<div class="a" style="left:1753.5px;top:434px;width:30px;height:30px;border-radius:50%;background:#e6edf4;overflow:hidden"><div style="position:absolute;left:-0.5px;top:-0.5px;width:31px;height:31px;transform:scale(0.968);transform-origin:15.5px 15.5px"><svg width="31" height="31" viewBox="0 0 31 31" style="position:absolute;left:0;top:0"><rect width="31" height="31" fill="#e6edf4"/><path d="M7 24C6 15 9 8 15 7C20 6 23 9 23 12L12 13C11 17 11 21 12 25Z" fill="#5a3826"/><ellipse cx="17" cy="15.5" rx="4.5" ry="5.5" fill="#eac6ae"/><path d="M6 31C8 26 12 24 16 24C20 24 24 26 26 31Z" fill="#f6f6f6"/><path d="M14 24L16 28L18 24" fill="#d8d8d8"/></svg></div></div>
<div class="a" style="left:1753.5px;top:473px;width:30px;height:30px;border-radius:50%;background:#dedede;overflow:hidden"><div style="position:absolute;left:-0.5px;top:-0.5px;width:31px;height:31px;transform:scale(0.968);transform-origin:15.5px 15.5px"><svg width="31" height="31" viewBox="0 0 31 31" style="position:absolute;left:0;top:0"><rect width="31" height="31" fill="#dedede"/><ellipse cx="15.5" cy="14" rx="5" ry="6" fill="#c9a08a"/><path d="M10 11C10 7 13 6 15.5 6C18 6 21 7 21 11L19 9.5L12 9.5Z" fill="#6a6a6a"/><rect x="11" y="12" width="4" height="2.2" rx="0.8" fill="none" stroke="#2a2a2a" stroke-width="0.8"/><rect x="16" y="12" width="4" height="2.2" rx="0.8" fill="none" stroke="#2a2a2a" stroke-width="0.8"/><path d="M4 31C6 25 10 22 15.5 22C21 22 25 25 27 31Z" fill="#2c2c2e"/></svg></div></div>
<div class="a" style="left:1753.5px;top:512px;width:30px;height:30px;border-radius:50%;background:#2f5596;overflow:hidden"><div style="position:absolute;left:-0.5px;top:-0.5px;width:31px;height:31px;transform:scale(0.968);transform-origin:15.5px 15.5px"><div style="position:absolute;left:0;top:-1px;width:31px;height:31px;text-align:center;line-height:31px;color:#fff;font-size:16px;font-weight:bold;letter-spacing:-0.8px;font-style:italic">24</div></div></div>
<div class="a" style="left:1753.5px;top:552px;width:30px;height:30px;border-radius:50%;background:#4aa8a0;overflow:hidden"><div style="position:absolute;left:-0.5px;top:-0.5px;width:31px;height:31px;transform:scale(0.968);transform-origin:15.5px 15.5px"><svg width="31" height="31" viewBox="0 0 31 31" style="position:absolute;left:0;top:0"><path d="M11.8 14.5V11.8C11.8 9.6 13.4 8 15.5 8C17.6 8 19.2 9.6 19.2 11.8V14.5" fill="none" stroke="#fff" stroke-width="2.4"/><rect x="9.8" y="14" width="11.4" height="9.2" rx="0.8" fill="#fff"/><rect x="14.8" y="16.8" width="1.4" height="3.4" fill="#4aa8a0"/></svg></div></div>
<div class="a" style="left:1753.5px;top:592px;width:30px;height:30px;border-radius:50%;background:#e8e4de;overflow:hidden"><div style="position:absolute;left:-0.5px;top:-0.5px;width:31px;height:31px;transform:scale(0.968);transform-origin:15.5px 15.5px"><svg width="31" height="31" viewBox="0 0 31 31" style="position:absolute;left:0;top:0"><rect width="31" height="31" fill="#e8e4de"/><path d="M11 14C10 8 13 5 16 5C19 5 21 8 20 12L22 22L19 20L18 12Z" fill="#b0683c"/><ellipse cx="15" cy="13" rx="3.8" ry="4.8" fill="#e6bea0"/><path d="M5 31C6 24 10 20 15.5 20C21 20 25 24 26 31Z" fill="#cfa03e"/></svg></div></div>
<div class="a" style="left:1753.5px;top:631px;width:30px;height:30px;border-radius:50%;background:#a9b4b8;overflow:hidden"><div style="position:absolute;left:-0.5px;top:-0.5px;width:31px;height:31px;transform:scale(0.968);transform-origin:15.5px 15.5px"><svg width="31" height="31" viewBox="0 0 31 31" style="position:absolute;left:0;top:0"><rect width="31" height="31" fill="#a9b4b8"/><path d="M10 13C10 8 12 5 15.5 5C19 5 21 8 21 13L19 11H12Z" fill="#2a2020"/><ellipse cx="15.5" cy="14" rx="4.2" ry="5" fill="#deb39a"/><path d="M4 31C5 24 9 20 15.5 20C22 20 26 24 27 31Z" fill="#cf5636"/><path d="M8 24C12 22 19 22 23 24L21 27C17 25 13 25 10 27Z" fill="#e88a5a"/></svg></div></div>
<div class="a" style="left:1753.5px;top:670px;width:30px;height:30px;border-radius:50%;background:#f0f0f0;overflow:hidden"><div style="position:absolute;left:-0.5px;top:-0.5px;width:31px;height:31px;transform:scale(0.968);transform-origin:15.5px 15.5px"><svg width="31" height="31" viewBox="0 0 31 31" style="position:absolute;left:0;top:0"><rect width="31" height="31" fill="#f0f0f0"/><path d="M10 15C9 9 12 6 16 6C20 6 22 9 22 14L20 11H12Z" fill="#2a2220"/><ellipse cx="16" cy="14.5" rx="4.2" ry="5" fill="#ecd2c0"/><path d="M5 31C6 25 10 22 16 22C22 22 25 25 26 31Z" fill="#fafafa"/><path d="M10 31L13 23L16 27L19 23L22 31Z" fill="#d0d0d0"/></svg></div></div>
<div class="a" style="left:1753.5px;top:710px;width:30px;height:30px;border-radius:50%;background:#a8a8ac;overflow:hidden"><div style="position:absolute;left:-0.5px;top:-0.5px;width:31px;height:31px;transform:scale(0.968);transform-origin:15.5px 15.5px"><svg width="31" height="31" viewBox="0 0 31 31" style="position:absolute;left:0;top:0"><rect width="31" height="31" fill="#a8a8ac"/><path d="M10 17C9 10 12 6 15.5 6C19 6 22 10 21 17L19 12H12Z" fill="#9a5030"/><ellipse cx="15.5" cy="14" rx="4" ry="5" fill="#ecc8b0"/><path d="M5 31C6 25 10 21 15.5 21C21 21 25 25 26 31Z" fill="#f4f4f4"/><path d="M14 21L15.5 26L17 21Z" fill="#d8b8a0"/></svg></div></div>
<div class="a" style="left:1753.5px;top:749px;width:30px;height:30px;border-radius:50%;background:#e06b8a;overflow:hidden"><div style="position:absolute;left:-0.5px;top:-0.5px;width:31px;height:31px;transform:scale(0.968);transform-origin:15.5px 15.5px"><svg width="31" height="31" viewBox="0 0 31 31" style="position:absolute;left:0;top:0"><ellipse cx="15.5" cy="11.5" rx="4" ry="5.2" fill="#fff"/><path d="M7.5 24V21C7.5 18.5 10 17 13 16.5L15.5 18L18 16.5C21 17 23.5 18.5 23.5 21V24Z" fill="#fff"/></svg></div></div>
<div class="a" style="left:1753.5px;top:788px;width:30px;height:30px;border-radius:50%;background:#6b9a3a;overflow:hidden"><div style="position:absolute;left:-0.5px;top:-0.5px;width:31px;height:31px;transform:scale(0.968);transform-origin:15.5px 15.5px"><svg width="31" height="31" viewBox="0 0 31 31" style="position:absolute;left:0;top:0"><ellipse cx="15.5" cy="11.5" rx="4" ry="5.2" fill="#fff"/><path d="M7.5 24V21C7.5 18.5 10 17 13 16.5L15.5 18L18 16.5C21 17 23.5 18.5 23.5 21V24Z" fill="#fff"/></svg></div></div>
<div class="a" style="left:1753.5px;top:828px;width:30px;height:30px;border-radius:50%;background:#5a9ac0;overflow:hidden"><div style="position:absolute;left:-0.5px;top:-0.5px;width:31px;height:31px;transform:scale(0.968);transform-origin:15.5px 15.5px"><svg width="31" height="31" viewBox="0 0 31 31" style="position:absolute;left:0;top:0"><ellipse cx="15.5" cy="11.5" rx="4" ry="5.2" fill="#fff"/><path d="M7.5 24V21C7.5 18.5 10 17 13 16.5L15.5 18L18 16.5C21 17 23.5 18.5 23.5 21V24Z" fill="#fff"/></svg></div></div>
<div class="a" style="left:1753.5px;top:867px;width:30px;height:30px;border-radius:50%;background:#31465c;overflow:hidden"><div style="position:absolute;left:-0.5px;top:-0.5px;width:31px;height:31px;transform:scale(0.968);transform-origin:15.5px 15.5px"><svg width="31" height="31" viewBox="0 0 31 31" style="position:absolute;left:0;top:0"><rect width="31" height="31" fill="#31465c"/><rect x="20" y="6" width="11" height="14" fill="#4a7a8a"/><ellipse cx="14" cy="15" rx="5.5" ry="6.5" fill="#c8a088"/><path d="M8.5 12C8.5 7 11 6 14 6C17 6 19.5 7 19.5 12L18 10H10Z" fill="#b8b8b8"/><path d="M2 31C4 25 8 22 14 22C20 22 24 25 26 31Z" fill="#1a2a40"/></svg></div></div>
<div class="a" style="left:1753.5px;top:980px;width:31px;height:31px;border-radius:50%;background:#8dc63f"></div>
<svg class="a" style="left:1760px;top:986.5px" width="18" height="18" viewBox="0 0 24 24"><path transform="rotate(90 12 12)" d="M6.62 10.79c1.44 2.83 3.76 5.14 6.59 6.59l2.2-2.2c.27-.27.67-.36 1.02-.24 1.12.37 2.33.57 3.57.57.55 0 1 .45 1 1V20c0 .55-.45 1-1 1-9.39 0-17-7.61-17-17 0-.55.45-1 1-1h3.5c.55 0 1 .45 1 1 0 1.25.2 2.45.57 3.57.11.35.03.74-.25 1.02l-2.2 2.2z" fill="#fff"/></svg>
</body></html>
